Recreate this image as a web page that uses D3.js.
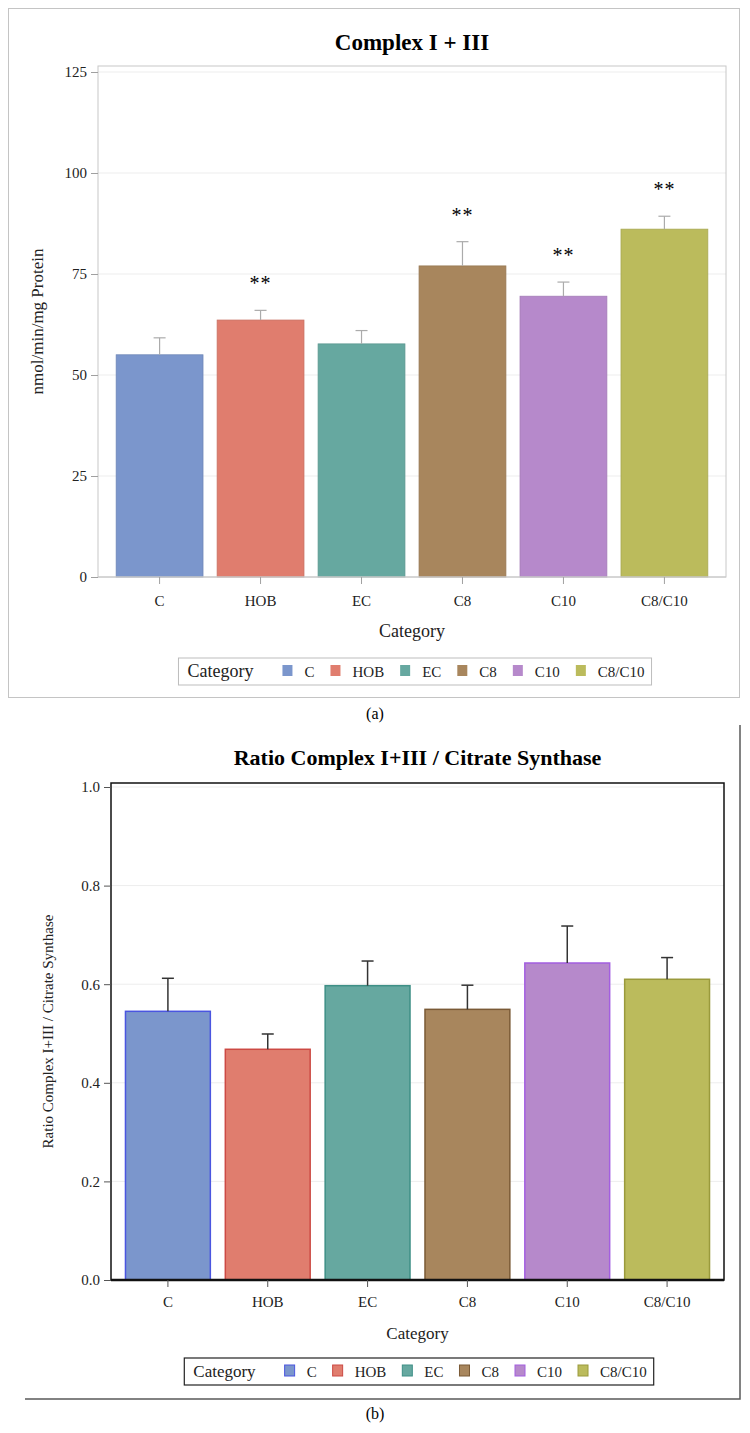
<!DOCTYPE html>
<html>
<head>
<meta charset="utf-8">
<script src="https://cdnjs.cloudflare.com/ajax/libs/d3/7.8.5/d3.min.js"></script>
<style>
    body { margin: 0; background: #fff; }
    svg { display: block; font-family: "Liberation Serif", "Times New Roman", serif; }
</style>
</head>
<body>
<svg id="chart" width="750" height="1433"></svg>
<script>
var categories = ["C", "HOB", "EC", "C8", "C10", "C8/C10"];
var complexMeans = [55.0, 63.6, 57.7, 77.0, 69.5, 86.1];
var complexErrors = [4.2, 2.4, 3.3, 6.0, 3.5, 3.2];
var complexMarks = ["", "**", "", "**", "**", "**"];
var complexTicks = [0, 25, 50, 75, 100, 125];
var ratioMeans = [0.545, 0.468, 0.597, 0.549, 0.643, 0.610];
var ratioErrors = [0.067, 0.031, 0.050, 0.049, 0.075, 0.044];
var ratioTicks = [0, 0.2, 0.4, 0.6, 0.8, 1.0];
var fillColors = ["#7b96cc", "#e07d6e", "#66a8a0", "#a8865d", "#b689cb", "#bbbb5c"];
var strokeColors = ["#4a55e0", "#cc4a44", "#3e8f86", "#7a5a36", "#a35ee0", "#9a9a3c"];

var FONT = '"Liberation Serif", "Times New Roman", serif';
var svg = d3.select('#chart');

function drawPanel(p) {
    var g = svg.append('g').attr("font-family", FONT);
    var x = d3.scaleBand()
        .domain(categories)
        .range([p.left, p.right])
        .paddingInner(p.padInner)
        .paddingOuter(p.padOuter);
    var y = d3.scaleLinear()
        .domain([0, p.ticks[p.ticks.length - 1]])
        .range([p.bottom, p.topTick]);

    // grid
    g.selectAll(".grid")
        .data(p.ticks.slice(1))
        .enter().append("line")
        .attr("x1", p.left).attr("x2", p.right)
        .attr("y1", function (d) { return y(d); })
        .attr("y2", function (d) { return y(d); })
        .attr("stroke", "#ededed");

    var rows = categories.map(function (c, i) {
        return { cat: c, mean: p.means[i], err: p.errors[i], mark: p.marks ? p.marks[i] : "", i: i };
    });

    g.selectAll(".bar")
        .data(rows)
        .enter().append("rect")
        .attr("x", function (d) { return x(d.cat); })
        .attr("width", x.bandwidth())
        .attr("y", function (d) { return y(d.mean); })
        .attr("height", function (d) { return p.bottom - y(d.mean); })
        .attr("fill", function (d) { return fillColors[d.i]; })
        .attr("stroke", function (d) { return p.barStroke ? strokeColors[d.i] : d3.color(fillColors[d.i]).darker(0.3); })
        .attr("stroke-width", p.barStroke ? 1.5 : 0.8);

    var eb = g.selectAll(".err")
        .data(rows)
        .enter().append("g")
        .attr("stroke", p.errColor)
        .attr("stroke-width", p.errWidth);
    eb.append("line")
        .attr("x1", function (d) { return x(d.cat) + x.bandwidth() / 2; })
        .attr("x2", function (d) { return x(d.cat) + x.bandwidth() / 2; })
        .attr("y1", function (d) { return y(d.mean); })
        .attr("y2", function (d) { return y(d.mean + d.err); });
    eb.append("line")
        .attr("x1", function (d) { return x(d.cat) + x.bandwidth() / 2 - 6; })
        .attr("x2", function (d) { return x(d.cat) + x.bandwidth() / 2 + 6; })
        .attr("y1", function (d) { return y(d.mean + d.err); })
        .attr("y2", function (d) { return y(d.mean + d.err); });

    g.selectAll(".mark")
        .data(rows.filter(function (d) { return d.mark; }))
        .enter().append("text")
        .attr("x", function (d) { return x(d.cat) + x.bandwidth() / 2; })
        .attr("y", function (d) { return y(d.mean + d.err) - 20; })
        .attr("text-anchor", "middle")
        .style("font-size", "20px")
        .style("letter-spacing", "1px")
        .text(function (d) { return d.mark; });

    // frame
    g.append("rect")
        .attr("x", p.left).attr("y", p.frameTop)
        .attr("width", p.right - p.left).attr("height", p.bottom - p.frameTop)
        .attr("fill", "none")
        .attr("stroke", p.frameColor)
        .attr("stroke-width", p.frameWidth);
    g.append("line")
        .attr("x1", p.left).attr("x2", p.right)
        .attr("y1", p.bottom).attr("y2", p.bottom)
        .attr("stroke", p.frameColor)
        .attr("stroke-width", p.baseWidth);

    var yAxis = g.append("g")
        .attr("transform", "translate(" + p.left + ",0)")
        .call(d3.axisLeft(y).tickValues(p.ticks).tickSize(7).tickPadding(4).tickFormat(p.fmt))
        .attr("font-family", FONT)
        .attr("font-size", p.tickFont);
    yAxis.select(".domain").remove();
    yAxis.selectAll("line").attr("stroke", p.tickColor);
    yAxis.selectAll("text").attr("fill", "#222");

    var xAxis = g.append("g")
        .attr("transform", "translate(0," + p.bottom + ")")
        .call(d3.axisBottom(x).tickSize(7).tickPadding(p.xPad))
        .attr("font-family", FONT)
        .attr("font-size", p.xTickFont);
    xAxis.select(".domain").remove();
    xAxis.selectAll("line").attr("stroke", p.tickColor);
    xAxis.selectAll("text").attr("fill", "#222");

    var cx = (p.left + p.right) / 2;
    g.append("text")
        .attr("x", cx).attr("y", p.titleY)
        .attr("text-anchor", "middle")
        .style("font-weight", "bold")
        .style("font-size", p.titleFont)
        .text(p.title);

    g.append("text")
        .attr("transform", "translate(" + p.yLabelX + "," + ((p.frameTop + p.bottom) / 2) + ") rotate(-90)")
        .attr("text-anchor", "middle")
        .style("font-size", p.yLabelFont)
        .attr("fill", "#222")
        .text(p.yLabel);

    g.append("text")
        .attr("x", cx).attr("y", p.xLabelY)
        .attr("text-anchor", "middle")
        .style("font-size", p.xLabelFont)
        .attr("fill", "#222")
        .text("Category");

    drawLegend(g, p);

    g.append("text")
        .attr("x", 375).attr("y", p.capY)
        .attr("text-anchor", "middle")
        .style("font-size", "16px")
        .text(p.caption);
}

function drawLegend(g, p) {
    var lg = g.append("g");
    var box = lg.append("rect")
        .attr("fill", "#fff")
        .attr("stroke", p.legendStroke)
        .attr("stroke-width", p.legendStrokeW);
    var head = lg.append("text")
        .attr("x", 0).attr("y", 0)
        .style("font-size", p.legendHead)
        .attr("fill", "#222")
        .text("Category");
    var cursor = head.node().getComputedTextLength() + 29;
    categories.forEach(function (c, i) {
        lg.append("rect")
            .attr("x", cursor).attr("y", -12)
            .attr("width", 10).attr("height", 11)
            .attr("fill", fillColors[i])
            .attr("stroke", p.barStroke ? strokeColors[i] : "none")
            .attr("stroke-width", 1);
        var t = lg.append("text")
            .attr("x", cursor + 22).attr("y", 0)
            .style("font-size", p.legendFont)
            .attr("fill", "#222")
            .text(c);
        cursor += 22 + t.node().getComputedTextLength() + 16;
    });
    var w = cursor;
    box.attr("x", -9).attr("y", -19).attr("width", w).attr("height", 27);
    lg.attr("transform", "translate(" + (p.legendCx - w / 2 + 9) + "," + p.legendY + ")");
}

// panel (a) frame
svg.append("rect")
    .attr("x", 8.5).attr("y", 8.5)
    .attr("width", 731).attr("height", 689)
    .attr("fill", "none")
    .attr("stroke", "#c4c4c4");

drawPanel({
    means: complexMeans, errors: complexErrors, marks: complexMarks, ticks: complexTicks,
    fmt: d3.format("d"),
    left: 98, right: 726, bottom: 577, topTick: 72, frameTop: 66,
    padInner: 0.14, padOuter: 0.18,
    barStroke: false, errColor: "#ababab", errWidth: 1.2,
    frameColor: "#c8c8c8", frameWidth: 1, baseWidth: 1, tickColor: "#a0a0a0",
    tickFont: "15px", xTickFont: "15px", xPad: 11,
    title: "Complex I + III", titleY: 50, titleFont: "23px",
    yLabel: "nmol/min/mg Protein", yLabelX: 43, yLabelFont: "17px",
    xLabelY: 637, xLabelFont: "18px",
    legendCx: 415, legendY: 677, legendStroke: "#bdbdbd", legendStrokeW: 1,
    legendHead: "18px", legendFont: "15px",
    caption: "(a)", capY: 719
});

// panel (b) frame: right and bottom edges only
svg.append("path")
    .attr("d", "M740,725V1399H25")
    .attr("fill", "none")
    .attr("stroke", "#5a5a5a")
    .attr("stroke-width", 1.5);

drawPanel({
    means: ratioMeans, errors: ratioErrors, marks: null, ticks: ratioTicks,
    fmt: d3.format(".1f"),
    left: 111, right: 724, bottom: 1280, topTick: 787, frameTop: 783,
    padInner: 0.15, padOuter: 0.145,
    barStroke: true, errColor: "#333", errWidth: 1.5,
    frameColor: "#111", frameWidth: 1.5, baseWidth: 2.5, tickColor: "#555",
    tickFont: "15px", xTickFont: "15px", xPad: 9,
    title: "Ratio Complex I+III / Citrate Synthase", titleY: 765, titleFont: "22px",
    yLabel: "Ratio Complex I+III / Citrate Synthase", yLabelX: 53, yLabelFont: "15px",
    xLabelY: 1339, xLabelFont: "17px",
    legendCx: 419, legendY: 1377, legendStroke: "#222", legendStrokeW: 1.2,
    legendHead: "17px", legendFont: "15px",
    caption: "(b)", capY: 1419
});
</script>
</body>
</html>
